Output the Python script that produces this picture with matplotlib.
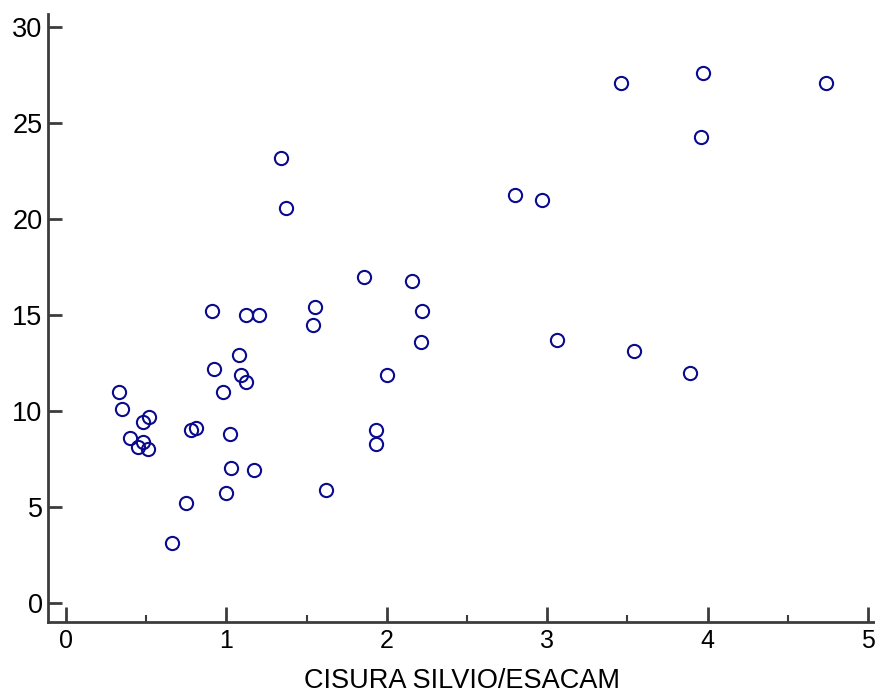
import numpy as np
import matplotlib
matplotlib.use("Agg")
import matplotlib.pyplot as plt
from matplotlib.ticker import MultipleLocator

plt.rcParams['font.family'] = ['Liberation Sans', 'DejaVu Sans']

# cisura silvio / esacam ratio vs. second measurement
ratio = [0.33, 0.35, 0.40, 0.45, 0.48, 0.48, 0.52, 0.51, 0.66, 0.75,
         0.78, 0.81, 0.91, 0.92, 0.98, 1.00, 1.02, 1.03, 1.08, 1.09,
         1.12, 1.12, 1.17, 1.20, 1.34, 1.37, 1.54, 1.55, 1.62, 1.86,
         1.93, 1.93, 2.00, 2.16, 2.22, 2.21, 2.80, 2.97, 3.06, 3.46,
         3.54, 3.89, 3.96, 3.97, 4.74]
value = [11.0, 10.1, 8.6, 8.1, 9.4, 8.4, 9.7, 8.0, 3.1, 5.2,
         9.0, 9.1, 15.2, 12.2, 11.0, 5.7, 8.8, 7.0, 12.9, 11.9,
         11.5, 15.0, 6.9, 15.0, 23.2, 20.6, 14.5, 15.4, 5.9, 17.0,
         9.0, 8.3, 11.9, 16.8, 15.2, 13.6, 21.25, 21.0, 13.7, 27.1,
         13.1, 12.0, 24.3, 27.6, 27.1]

fig = plt.figure(figsize=(8.75, 6.97), dpi=100)
ax = fig.add_axes([0.055, 0.108, 0.945, 0.872])

ax.plot(ratio, value, linestyle='none', marker='o', markersize=9.5,
        markerfacecolor='none', markeredgecolor='#0a0a8c', markeredgewidth=1.5)

ax.set_xlim(-0.112, 5.044)
ax.set_ylim(-0.99, 30.7)
ax.xaxis.set_major_locator(MultipleLocator(1))
ax.xaxis.set_minor_locator(MultipleLocator(0.5))
ax.yaxis.set_major_locator(MultipleLocator(5))

spine_col = '#3c3c3c'
for side in ['top', 'right']:
    ax.spines[side].set_visible(False)
for side in ['left', 'bottom']:
    ax.spines[side].set_color(spine_col)
    ax.spines[side].set_linewidth(2)

ax.tick_params(axis='y', direction='in', length=10, width=2, color=spine_col,
               labelsize=19.5, pad=4)
ax.tick_params(axis='x', which='major', direction='in', length=11, width=2,
               color=spine_col, labelsize=18, pad=5)
ax.tick_params(axis='x', which='minor', direction='in', length=5, width=1.5,
               color=spine_col)

ax.set_xlabel('CISURA SILVIO/ESACAM', fontsize=19.5, labelpad=11)

fig.savefig('out.png', dpi=100)
